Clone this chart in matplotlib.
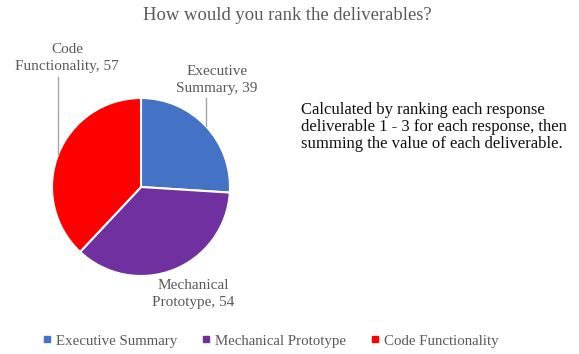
import numpy as np
import matplotlib
matplotlib.use("Agg")
import matplotlib.pyplot as plt
from matplotlib.lines import Line2D

categories = ["Executive Summary", "Mechanical Prototype", "Code Functionality"]
values = [39, 54, 57]
colors = ["#4472C4", "#7030A0", "#FF0000"]
title = "How would you rank the deliverables?"
note = ("Calculated by ranking each response\n"
        "deliverable 1 - 3 for each response, then\n"
        "summing the value of each deliverable.")

plt.rcParams["font.family"] = ["Liberation Serif", "DejaVu Serif"]
TEXT = "#595959"

W, H = 579, 354
fig = plt.figure(figsize=(W / 100, H / 100), dpi=100)

# pie axes placed in pixel units
cx, cy, r = 141, 187, 89
ax = fig.add_axes([(cx - r) / W, (H - cy - r) / H, 2 * r / W, 2 * r / H])
wedges, _ = ax.pie(values, colors=colors, startangle=90, counterclock=False,
                   radius=1.0, wedgeprops=dict(edgecolor="white", linewidth=1.5))
ax.set_xlim(-1, 1)
ax.set_ylim(-1, 1)
ax.set_aspect("equal")
ax.axis("off")

# data labels: (x, y) of text centre, leader-line top (None = no leader)
label_pos = [(0.855, 1.20, 1.0), (0.59, -1.205, None), (-0.83, 1.455, 1.236)]
for w, cat, v, (tx, ty, ltop) in zip(wedges, categories, values, label_pos):
    words = cat.split(" ")
    txt = f"{words[0]}\n{words[1]}, {v}"
    ax.text(tx, ty, txt, ha="center", va="center", fontsize=11,
            color=TEXT, linespacing=1.4, clip_on=False)
    if ltop is not None:
        mid = np.deg2rad((w.theta1 + w.theta2) / 2)
        ex, ey = np.cos(mid), np.sin(mid)
        ax.plot([ex, ex], [ey, ltop], color="#A6A6A6", lw=1.0, clip_on=False)

fig.text(0.497, 1 - 15 / H, title, ha="center", va="center", fontsize=13.4, color=TEXT)
fig.text(301 / W, 1 - 127 / H, note, ha="left", va="center", fontsize=12,
         color="#111111", linespacing=1.1)

handles = [Line2D([], [], marker="s", linestyle="none", markersize=4.5,
                  markerfacecolor=c, markeredgecolor=c) for c in colors]
fig.legend(handles, categories, loc="center", bbox_to_anchor=(0.468, 1 - 341 / H),
           ncol=3, frameon=False, fontsize=10.7, labelcolor=TEXT,
           handlelength=0.5, handletextpad=0.35, columnspacing=1.68,
           borderaxespad=0)

fig.savefig("out.png", dpi=100, facecolor="white")
